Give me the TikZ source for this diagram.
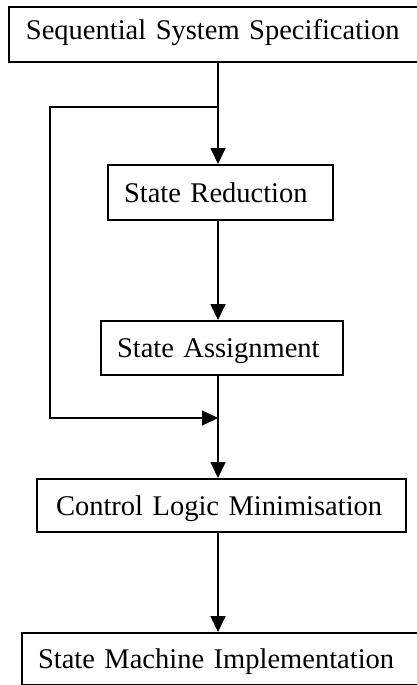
\documentclass[tikz,border=0pt]{standalone}
\usepackage{fontspec}
\setmainfont{Liberation Serif}
\usetikzlibrary{arrows.meta}
\begin{document}
\begin{tikzpicture}[x=1pt,y=-1pt,
  boxnode/.style={draw, line width=2pt, anchor=north west, inner ysep=0pt, inner xsep=0pt,
    font=\fontsize{28.5pt}{30pt}\selectfont, text height=19pt, text depth=0pt, align=left},
  conn/.style={line width=1.8pt},
  arr/.style={conn, -{Triangle[length=16pt,width=15pt]}}]
\useasboundingbox (0,0) rectangle (417,685);
\fill[white] (0,0) rectangle (417,685);
\clip (0,0) rectangle (417,685);
\node[boxnode, minimum height=55pt, text width=412pt, text depth=8pt] (B1) at (8,6) {\hspace*{17pt}Sequential System Specification};
\node[boxnode, minimum height=55pt, text width=225pt] (B2) at (107,164) {\hspace*{16pt}State Reduction};
\node[boxnode, minimum height=54pt, text width=242pt] (B3) at (100,320) {\hspace*{16pt}State Assignment};
\node[boxnode, minimum height=53pt, text width=369pt] (B4) at (36,478) {\hspace*{19pt}Control Logic Minimisation};
\node[boxnode, minimum height=52pt, text width=399pt] (B5) at (21,632) {\hspace*{16pt}State Machine Implementation};
\coordinate (j1) at (218,107);
\coordinate (j2) at (218,418);
\coordinate (l1) at (50,107);
\coordinate (l2) at (50,418);
\draw[arr] (B1.south -| j1) -- (B2.north -| j1);
\draw[arr] (B2.south -| j1) -- (B3.north -| j1);
\draw[conn] (B3.south -| j1) -- (j2);
\draw[arr] (j2) -- (B4.north -| j1);
\draw[arr] (B4.south -| j1) -- (B5.north -| j1);
\draw[arr, line width=1.5pt] (j1) -- (l1) -- (l2) -- (j2);
\end{tikzpicture}
\end{document}
